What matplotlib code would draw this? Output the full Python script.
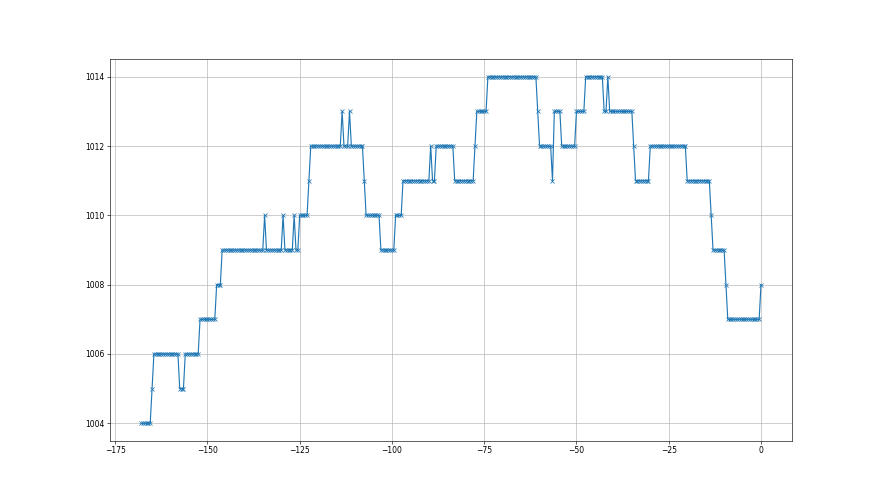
import numpy as np
import matplotlib
matplotlib.use("Agg")
import matplotlib.pyplot as plt

# hours before now, half-hour readings
hours = np.arange(-168, 0.5, 0.5)

# pressure readings (hPa)
pressure = [
    1004, 1004, 1004, 1004, 1004, 1004,
    1005,
    1006, 1006, 1006, 1006, 1006, 1006, 1006, 1006, 1006, 1006, 1006, 1006, 1006, 1006,
    1005, 1005, 1005,
    1006, 1006, 1006, 1006, 1006, 1006, 1006, 1006,
    1007, 1007, 1007, 1007, 1007, 1007, 1007, 1007, 1007,
    1008, 1008, 1008,
    1009, 1009, 1009, 1009, 1009, 1009, 1009, 1009, 1009, 1009, 1009, 1009,
    1009, 1009, 1009, 1009, 1009, 1009, 1009, 1009, 1009, 1009, 1009,
    1010,
    1009, 1009, 1009, 1009, 1009, 1009, 1009, 1009, 1009,
    1010,
    1009, 1009, 1009, 1009, 1009,
    1010,
    1009, 1009,
    1010, 1010, 1010, 1010, 1010,
    1011,
    1012, 1012, 1012, 1012, 1012, 1012, 1012, 1012, 1012,
    1012, 1012, 1012, 1012, 1012, 1012, 1012, 1012,
    1013,
    1012, 1012, 1012,
    1013,
    1012, 1012, 1012, 1012, 1012, 1012, 1012,
    1011,
    1010, 1010, 1010, 1010, 1010, 1010, 1010, 1010,
    1009, 1009, 1009, 1009, 1009, 1009, 1009, 1009,
    1010, 1010, 1010, 1010,
    1011, 1011, 1011, 1011, 1011, 1011, 1011, 1011,
    1011, 1011, 1011, 1011, 1011, 1011, 1011,
    1012,
    1011, 1011,
    1012, 1012, 1012, 1012, 1012, 1012, 1012, 1012, 1012, 1012,
    1011, 1011, 1011, 1011, 1011, 1011, 1011, 1011, 1011, 1011, 1011,
    1012,
    1013, 1013, 1013, 1013, 1013, 1013,
    1014, 1014, 1014, 1014, 1014, 1014, 1014, 1014, 1014, 1014, 1014, 1014, 1014, 1014,
    1014, 1014, 1014, 1014, 1014, 1014, 1014, 1014, 1014, 1014, 1014, 1014, 1014,
    1013,
    1012, 1012, 1012, 1012, 1012, 1012, 1012,
    1011,
    1013, 1013, 1013, 1013,
    1012, 1012, 1012, 1012, 1012, 1012, 1012, 1012,
    1013, 1013, 1013, 1013, 1013,
    1014, 1014, 1014, 1014, 1014, 1014, 1014, 1014, 1014, 1014,
    1013, 1013,
    1014,
    1013, 1013, 1013, 1013, 1013, 1013, 1013, 1013, 1013, 1013, 1013, 1013, 1013,
    1012,
    1011, 1011, 1011, 1011, 1011, 1011, 1011, 1011,
    1012, 1012, 1012, 1012, 1012, 1012, 1012, 1012, 1012, 1012,
    1012, 1012, 1012, 1012, 1012, 1012, 1012, 1012, 1012, 1012,
    1011, 1011, 1011, 1011, 1011, 1011, 1011, 1011, 1011, 1011, 1011, 1011, 1011,
    1010,
    1009, 1009, 1009, 1009, 1009, 1009, 1009,
    1008,
    1007, 1007, 1007, 1007, 1007, 1007, 1007, 1007, 1007,
    1007, 1007, 1007, 1007, 1007, 1007, 1007, 1007, 1007,
    1008,
]

fig, ax = plt.subplots(figsize=(16, 9), dpi=55)
ax.plot(hours, pressure, marker="x", markersize=6.5, markeredgewidth=1.0,
        color="C0")
ax.grid(True)
fig.savefig("out.png", dpi=55, facecolor="white")
